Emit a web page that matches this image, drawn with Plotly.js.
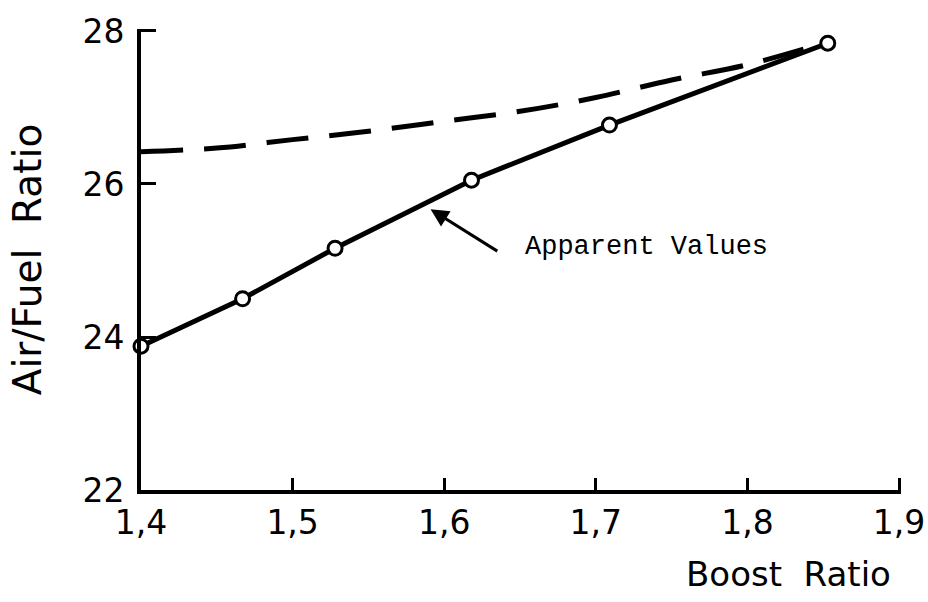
<!DOCTYPE html>
<html>
<head>
<meta charset="utf-8">
<script src="https://cdn.plot.ly/plotly-3.0.1.min.js"></script>
<style>html,body{margin:0;padding:0;background:#fff;}#chart{width:928px;height:602px;}</style>
</head>
<body>
<div id="chart"></div>
<script>
// Measured "apparent values" (solid line with circles)
const boostRatio = [1.40, 1.467, 1.528, 1.618, 1.709, 1.853];
const airFuelApparent = [23.88, 24.50, 25.16, 26.05, 26.77, 27.84];

// Dashed curve
const boostRatioDashed = [1.40, 1.45, 1.50, 1.55, 1.60, 1.65, 1.70, 1.75, 1.80, 1.85];
const airFuelDashed = [26.42, 26.47, 26.58, 26.69, 26.82, 26.95, 27.13, 27.36, 27.56, 27.84];

// Tick labels
const xTickVals = [1.4, 1.5, 1.6, 1.7, 1.8, 1.9];
const xTickText = ["1,4", "1,5", "1,6", "1,7", "1,8", "1,9"];
const yTickVals = [22, 24, 26, 28];
const yTickText = ["22", "24", "26", "28"];

const labelFont = {family: "DejaVu Sans", size: 33, color: "#000"};

const traces = [
  {
    x: boostRatioDashed, y: airFuelDashed, type: "scatter", mode: "lines",
    line: {color: "#000", width: 5, dash: "42px,21px", shape: "spline"},
    cliponaxis: false, hoverinfo: "skip", showlegend: false
  },
  {
    x: boostRatio, y: airFuelApparent, type: "scatter", mode: "lines+markers",
    line: {color: "#000", width: 5},
    marker: {symbol: "circle", size: 14, color: "#fff", line: {color: "#000", width: 3}},
    cliponaxis: false, showlegend: false, name: "Apparent Values"
  }
];

const layout = {
  width: 928, height: 602,
  paper_bgcolor: "#fff", plot_bgcolor: "#fff",
  margin: {l: 141, r: 27, t: 29, b: 112},
  showlegend: false,
  xaxis: {
    range: [1.4, 1.9013], tickvals: xTickVals, ticktext: xTickText,
    ticks: "inside", ticklen: 12, tickwidth: 3, tickcolor: "#000",
    showline: true, linecolor: "#000", linewidth: 4,
    showgrid: false, zeroline: false, tickfont: labelFont,
    ticklabelstandoff: 0, automargin: false
  },
  yaxis: {
    range: [22, 28.026], tickvals: yTickVals, ticktext: yTickText,
    ticks: "inside", ticklen: 15, tickwidth: 3, tickcolor: "#000",
    showline: true, linecolor: "#000", linewidth: 4,
    showgrid: false, zeroline: false, tickfont: labelFont,
    ticklabelstandoff: 6, automargin: false,
    title: {text: "Air/Fuel  Ratio", font: {family: "DejaVu Sans", size: 39, color: "#000"}, standoff: 30}
  },
  annotations: [
    {
      xref: "paper", yref: "paper", x: 1.0 - 8/760, y: -0.182,
      xanchor: "right", yanchor: "middle", showarrow: false,
      text: "Boost  Ratio", font: {family: "DejaVu Sans", size: 34, color: "#000"}
    },
    {
      xref: "x", yref: "y", x: 1.591, y: 25.67,
      axref: "x", ayref: "y", ax: 1.636, ay: 25.11,
      showarrow: true, arrowhead: 2, arrowsize: 1.2, arrowwidth: 3, arrowcolor: "#000",
      text: ""
    },
    {
      xref: "x", yref: "y", x: 1.652, y: 25.18, xanchor: "left", yanchor: "middle",
      showarrow: false, text: "Apparent Values",
      font: {family: "Liberation Mono", size: 27, color: "#000"}
    }
  ]
};

Plotly.newPlot("chart", traces, layout, {staticPlot: true, displayModeBar: false});
</script>
</body>
</html>
